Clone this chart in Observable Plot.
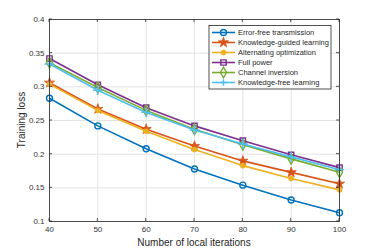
<!DOCTYPE html>
<html>
<head>
<meta charset="utf-8">
<script src="https://cdn.jsdelivr.net/npm/d3@7"></script>
<script src="https://cdn.jsdelivr.net/npm/@observablehq/plot@0.6"></script>
<style>
  html, body { margin: 0; padding: 0; background: #fff; }
  svg { font-family: "Liberation Sans", Arial, sans-serif; }
</style>
</head>
<body>
<div id="chart"></div>
<script>
const iterations = [40, 50, 60, 70, 80, 90, 100];
const errorFree       = [0.283, 0.242, 0.208, 0.178, 0.154, 0.132, 0.113];
const knowledgeGuided = [0.306, 0.267, 0.237, 0.212, 0.190, 0.173, 0.156];
const alternating     = [0.304, 0.265, 0.234, 0.207, 0.183, 0.164, 0.147];
const fullPower       = [0.342, 0.303, 0.269, 0.242, 0.220, 0.199, 0.180];
const channelInv      = [0.336, 0.299, 0.265, 0.237, 0.214, 0.193, 0.173];
const knowledgeFree   = [0.334, 0.295, 0.262, 0.236, 0.215, 0.196, 0.177];

const seriesNames = ["Error-free transmission", "Knowledge-guided learning", "Alternating optimization", "Full power", "Channel inversion", "Knowledge-free learning"];
const seriesValues = [errorFree, knowledgeGuided, alternating, fullPower, channelInv, knowledgeFree];
const colors = ["#0072BD", "#D95319", "#EDB120", "#7E2F8E", "#77AC30", "#4DBEEE"];
const symbols = ["circle", "star", "circle", "square", "diamond", "plus"];
const filled = [false, true, true, false, false, false];
const sizes = [3, 3.2, 2.5, 3, 3.2, 3.2];

const xTicks = [40, 50, 60, 70, 80, 90, 100];
const yTicks = [0.1, 0.15, 0.2, 0.25, 0.3, 0.35, 0.4];
const yTickLabels = ["0.1", "0.15", "0.2", "0.25", "0.3", "0.35", "0.4"];

const rows = [];
seriesNames.forEach((name, s) => {
  iterations.forEach((it, i) => rows.push({series: name, s, x: it, y: seriesValues[s][i]}));
});

const marks = [
  Plot.gridX(xTicks, {stroke: "#e3e3e3", strokeOpacity: 1}),
  Plot.gridY(yTicks, {stroke: "#e3e3e3", strokeOpacity: 1}),
  Plot.axisX(xTicks, {tickSize: 0, tickPadding: 5, fontSize: 8, fill: "#333", label: null}),
  Plot.axisY(yTicks, {tickSize: 0, tickPadding: 5, fontSize: 8, fill: "#333", label: null,
    tickFormat: (d, i) => yTickLabels[i]}),
];
seriesNames.forEach((name, s) => {
  const d = rows.filter(r => r.s === s);
  marks.push(Plot.line(d, {x: "x", y: "y", stroke: colors[s], strokeWidth: 1.6}));
  marks.push(Plot.dot(d, {x: "x", y: "y", symbol: symbols[s], r: sizes[s],
    stroke: colors[s], strokeWidth: filled[s] ? 0.8 : 1.4, fill: filled[s] ? colors[s] : "none"}));
});
marks.push(Plot.frame({stroke: "#262626", strokeWidth: 0.8}));

const plot = Plot.plot({
  width: 374, height: 249,
  marginLeft: 49, marginRight: 35, marginTop: 19, marginBottom: 28,
  x: {domain: [40, 100]},
  y: {domain: [0.1, 0.4]},
  style: {fontFamily: "Liberation Sans, Arial, sans-serif", background: "#fff"},
  marks
});
document.getElementById("chart").appendChild(plot);

// Post-render: inward ticks, axis labels, legend (using the plot's scales)
const svg = d3.select(plot);
const xs = plot.scale("x"), ys = plot.scale("y");
const x0 = xs.range[0], x1 = xs.range[1];
const y0 = ys.range[0], y1 = ys.range[1];
const tl = 3;
const g = svg.append("g").attr("stroke", "#262626").attr("stroke-width", 0.8);
xTicks.forEach(t => {
  const px = xs.apply(t);
  g.append("line").attr("x1", px).attr("x2", px).attr("y1", y0).attr("y2", y0 - tl);
  g.append("line").attr("x1", px).attr("x2", px).attr("y1", y1).attr("y2", y1 + tl);
});
yTicks.forEach(t => {
  const py = ys.apply(t);
  g.append("line").attr("y1", py).attr("y2", py).attr("x1", x0).attr("x2", x0 + tl);
  g.append("line").attr("y1", py).attr("y2", py).attr("x1", x1).attr("x2", x1 - tl);
});

svg.append("text").attr("x", (x0 + x1) / 2).attr("y", 246)
  .attr("text-anchor", "middle").attr("font-size", 10).attr("fill", "#262626")
  .text("Number of local iterations");
svg.append("text").attr("transform", `translate(25,${(y0 + y1) / 2}) rotate(-90)`)
  .attr("text-anchor", "middle").attr("font-size", 10).attr("fill", "#262626")
  .text("Training loss");

// Legend
const lg = svg.append("g");
const lx = 209, ly = 25.5, lw = 122, lh = 63.5, rowH = 10;
lg.append("rect").attr("x", lx).attr("y", ly).attr("width", lw).attr("height", lh)
  .attr("fill", "#fff").attr("stroke", "#262626").attr("stroke-width", 0.8);
const symMap = {circle: d3.symbolCircle, star: d3.symbolStar, square: d3.symbolSquare, diamond: d3.symbolDiamond, plus: d3.symbolCross};
seriesNames.forEach((name, s) => {
  const cy = ly + 7 + s * rowH;
  lg.append("line").attr("x1", lx + 3).attr("x2", lx + 26).attr("y1", cy).attr("y2", cy)
    .attr("stroke", colors[s]).attr("stroke-width", 1.6);
  let path;
  if (symbols[s] === "plus") {
    const r = sizes[s];
    path = `M${-r},0H${r}M0,${-r}V${r}`;
  } else {
    const r = sizes[s];
    path = d3.symbol(symMap[symbols[s]], Math.PI * r * r)();
  }
  lg.append("path").attr("d", path).attr("transform", `translate(${lx + 14.5},${cy})`)
    .attr("stroke", colors[s]).attr("stroke-width", filled[s] ? 0.8 : 1.4)
    .attr("fill", filled[s] ? colors[s] : "none");
  lg.append("text").attr("x", lx + 29).attr("y", cy).attr("dy", "0.35em")
    .attr("text-anchor", "start")
    .attr("font-size", 7.5).attr("fill", "#262626").text(name);
});
</script>
</body>
</html>
